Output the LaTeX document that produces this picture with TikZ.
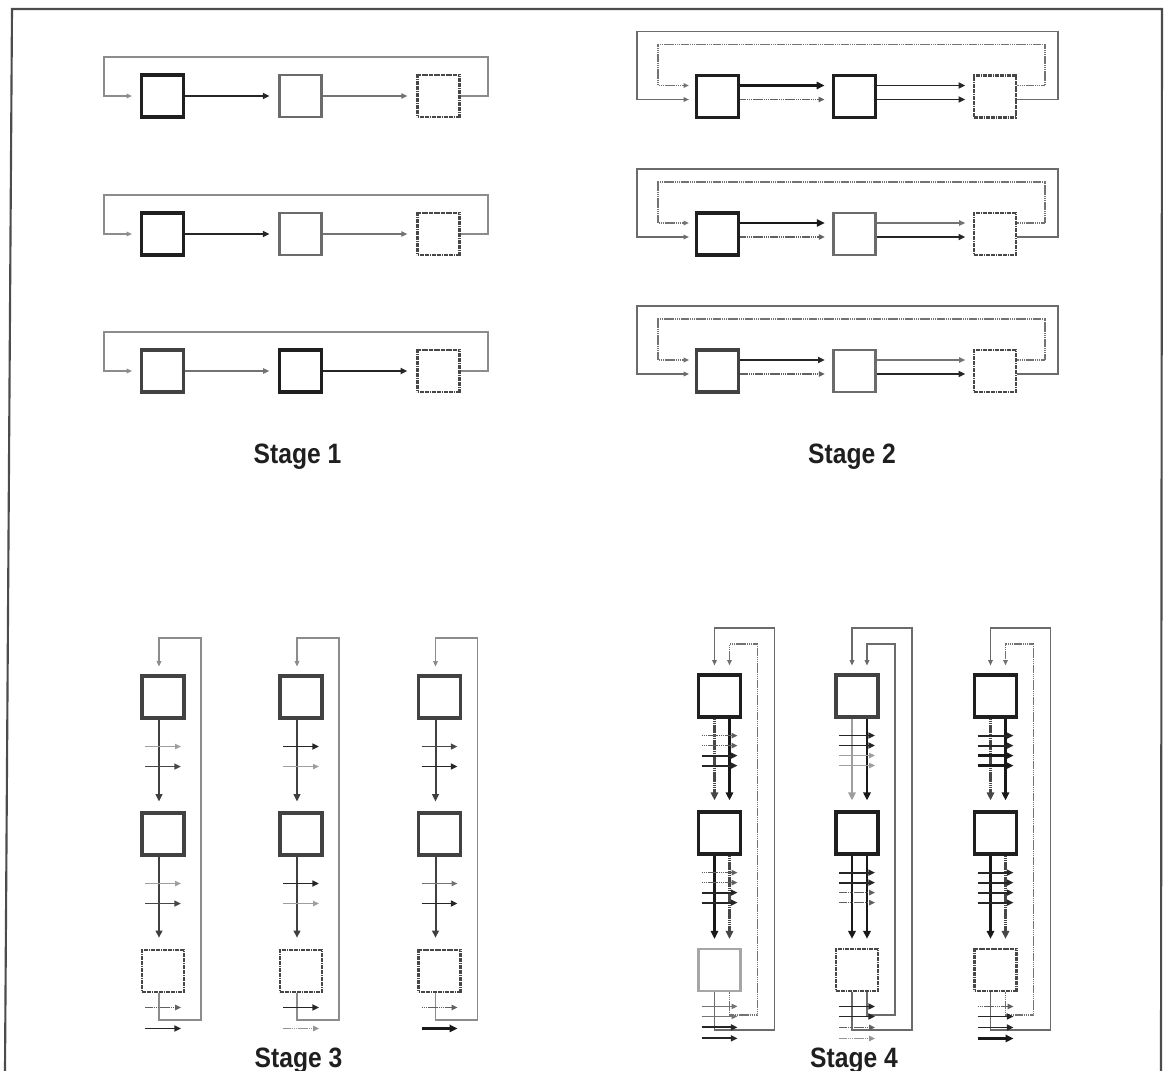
\documentclass[tikz,border=0pt]{standalone}
\usepackage{fontspec}
\newfontfamily\labfont{Liberation Sans}[FakeStretch=0.88]
\usetikzlibrary{arrows.meta,calc}
\newcommand\crossarr[3]{\draw[#1] ($(#2)+(-18,#3)$) -- ++(36,0);}
\tikzset{
  bx/.style={minimum size=31.5pt, inner sep=0pt, fill=white},
  bK/.style={bx, draw=black!88, line width=2.4pt},
  bD/.style={bx, draw=black!74, line width=2.3pt},
  bG/.style={bx, draw=black!58, line width=2.1pt},
  bL/.style={bx, draw=black!35, line width=2.1pt},
  bS/.style={bx, draw=black!72, line width=2.2pt, dash pattern=on 1.4pt off 0.4pt},
  aKK/.style={-{Triangle[length=6pt,width=5.5pt]}, draw=black!90, line width=2pt},
  aK/.style={-{Triangle[length=5pt,width=4.5pt]}, draw=black!85, line width=1.4pt},
  aD/.style={-{Triangle[length=5pt,width=4.4pt]}, draw=black!72, line width=1.2pt},
  aG/.style={-{Triangle[length=4.5pt,width=4pt]}, draw=black!55, line width=0.9pt},
  aL/.style={-{Triangle[length=4.5pt,width=4pt]}, draw=black!38, line width=1.1pt},
  aS/.style={-{Triangle[length=4.5pt,width=4pt]}, draw=black!62, line width=1.2pt, dash pattern=on 1.2pt off 0.4pt},
  aSL/.style={-{Triangle[length=4.5pt,width=4pt]}, draw=black!42, line width=1.1pt, dash pattern=on 1.2pt off 0.4pt},
  aSK/.style={-{Triangle[length=6pt,width=5.5pt]}, draw=black!72, line width=1.8pt, dash pattern=on 1.2pt off 0.4pt},
  aLK/.style={-{Triangle[length=6pt,width=5.5pt]}, draw=black!38, line width=1.8pt},
  aM/.style={-{Triangle[length=5.5pt,width=5pt]}, draw=black!75, line width=1.5pt},
  lpG/.style={-{Triangle[length=4pt,width=3.5pt]}, draw=black!58, line width=0.9pt},
  lpL/.style={-{Triangle[length=4pt,width=3.5pt]}, draw=black!45, line width=0.9pt},
  lpS/.style={-{Triangle[length=4pt,width=3.5pt]}, draw=black!55, line width=1pt, dash pattern=on 1.2pt off 0.4pt},
  lab/.style={font=\labfont\bfseries\fontsize{21}{24}\selectfont, text=black!88, inner sep=0pt, anchor=base},
}
\begin{document}
\begin{tikzpicture}[x=0.75pt,y=-0.75pt]
\useasboundingbox (0,0) rectangle (1165,1071);
\draw[black!70, line width=1.6pt] (5,1071) -- (12,9) -- (1162,9) -- (1161,1071);

% ---------------- Stage 1 ----------------
\foreach \r/\y/\bA/\bB/\bC/\aA/\aB in {a/96/bK/bG/bS/aK/aG, b/234/bK/bG/bS/aK/aG, c/371/bD/bK/bS/aG/aK}{
  \node[\bA] (s1\r1) at (162.5,\y) {};
  \node[\bB] (s1\r2) at (300.5,\y) {};
  \node[\bC] (s1\r3) at (438.5,\y) {};
  \draw[\aA, shorten >=6.5pt] (s1\r1.east) -- (s1\r2.west);
  \draw[\aB, shorten >=6.5pt] (s1\r2.east) -- (s1\r3.west);
  \draw[lpL, shorten >=6pt] (s1\r3.east) -| (488,\y-39) -| (104,\y) -- (s1\r1.west);
}
\node[lab] (l1) at (297.5,463) {Stage 1};

% ---------------- Stage 2 ----------------
\foreach \r/\y/\bA/\bB/\bC/\aU/\aW/\cU/\cW in {a/96.5/bK/bK/bS/aKK/aS/aK/aK, b/234/bK/bG/bS/aKK/aS/aG/aK, c/371/bD/bG/bS/aK/aS/aG/aK}{
  \node[\bA] (s2\r1) at (717.5,\y) {};
  \node[\bB] (s2\r2) at (854.5,\y) {};
  \node[\bC] (s2\r3) at (995,\y) {};
  \draw[\aU, shorten >=5.5pt] ($(s2\r1.east)+(0,-11)$) -- ($(s2\r2.west)+(0,-11)$);
  \draw[\aW, shorten >=5.5pt] ($(s2\r1.east)+(0,3)$) -- ($(s2\r2.west)+(0,3)$);
  \draw[\cU, shorten >=5.5pt] ($(s2\r2.east)+(0,-11)$) -- ($(s2\r3.west)+(0,-11)$);
  \draw[\cW, shorten >=5.5pt] ($(s2\r2.east)+(0,3)$) -- ($(s2\r3.west)+(0,3)$);
  \draw[lpG, shorten >=4.5pt] ($(s2\r3.east)+(0,3)$) -| (1058,\y-65) -| (637,\y+3) -- ($(s2\r1.west)+(0,3)$);
  \draw[lpS, shorten >=4.5pt] ($(s2\r3.east)+(0,-11)$) -| (1045,\y-52) -| (658,\y-11) -- ($(s2\r1.west)+(0,-11)$);
}
\node[lab] (l2) at (852,463) {Stage 2};

% ---------------- Stage 3 ----------------
\foreach \c/\x/\bC/\pa/\pb/\pc/\pd/\pe/\pf in {a/163/bS/aL/aD/aL/aD/aS/aK, b/301/bS/aK/aL/aK/aL/aK/aSL, c/439.5/bS/aD/aK/aG/aK/aS/aKK}{
  \node[bD] (s3\c1) at (\x,697) {};
  \node[bD] (s3\c2) at (\x,834) {};
  \node[\bC] (s3\c3) at (\x,971) {};
  \draw[aM, shorten >=7.5pt] ($(s3\c1.south)+(-4,0)$) -- ($(s3\c2.north)+(-4,0)$);
  \draw[aM, shorten >=8pt] ($(s3\c2.south)+(-4,0)$) -- ($(s3\c3.north)+(-4,0)$);
  \crossarr{\pa}{s3\c1.south}{27}
  \crossarr{\pb}{s3\c1.south}{47}
  \crossarr{\pc}{s3\c2.south}{27}
  \crossarr{\pd}{s3\c2.south}{47}
  \draw[lpL, shorten >=6pt] ($(s3\c3.south)+(-4,0)$) |- (\x+38,1020) |- (\x-4,638) -- ($(s3\c1.north)+(-4,0)$);
  \crossarr{\pe}{s3\c3.south}{14}
  \crossarr{\pf}{s3\c3.south}{35}
}
\node[lab] (l3) at (298.5,1067) {Stage 3};

% ---------------- Stage 4 ----------------
% column a
\node[bK] (s4a1) at (719.5,696) {};
\node[bK] (s4a2) at (719.5,833) {};
\node[bL] (s4a3) at (719.5,970) {};
% column b
\node[bD] (s4b1) at (857,696) {};
\node[bK] (s4b2) at (857,833) {};
\node[bS] (s4b3) at (857,970) {};
% column c
\node[bK] (s4c1) at (995.5,696) {};
\node[bK] (s4c2) at (995.5,833) {};
\node[bS] (s4c3) at (995.5,970) {};

\foreach \c/\x/\iL in {a/719.5/lpS, b/857/lpG, c/995.5/lpS}{
  \draw[lpG, shorten >=6pt] ($(s4\c3.south)+(-5,0)$) |- (\x+55,1030) |- (\x-5,628) -- ($(s4\c1.north)+(-5,0)$);
  \draw[\iL, shorten >=6pt] ($(s4\c3.south)+(10,0)$) |- (\x+38,1015) |- (\x+10,644) -- ($(s4\c1.north)+(10,0)$);
}

% main arrows
\foreach \c/\la/\ra/\lb/\rb in {a/aSK/aKK/aKK/aSK, b/aLK/aKK/aKK/aKK, c/aSK/aKK/aKK/aSK}{
  \draw[\la, shorten >=7.5pt] ($(s4\c1.south)+(-5,0)$) -- ($(s4\c2.north)+(-5,0)$);
  \draw[\ra, shorten >=7.5pt] ($(s4\c1.south)+(10,0)$) -- ($(s4\c2.north)+(10,0)$);
  \draw[\lb, shorten >=6.5pt] ($(s4\c2.south)+(-5,0)$) -- ($(s4\c3.north)+(-5,0)$);
  \draw[\rb, shorten >=6.5pt] ($(s4\c2.south)+(10,0)$) -- ($(s4\c3.north)+(10,0)$);
}

% crossing arrows
\foreach \c/\pa/\pb/\pc/\pd/\qa/\qb/\qc/\qd/\ra/\rb/\rc/\rd in {
  a/aS/aS/aK/aK/aS/aS/aK/aK/aG/aG/aK/aK,
  b/aK/aK/aL/aL/aK/aK/aS/aS/aK/aK/aS/aSL,
  c/aK/aK/aKK/aKK/aK/aK/aK/aK/aS/aK/aK/aKK}{
  \crossarr{\pa}{s4\c1.south}{17}
  \crossarr{\pb}{s4\c1.south}{27}
  \crossarr{\pc}{s4\c1.south}{37}
  \crossarr{\pd}{s4\c1.south}{47}
  \crossarr{\qa}{s4\c2.south}{17}
  \crossarr{\qb}{s4\c2.south}{27}
  \crossarr{\qc}{s4\c2.south}{37}
  \crossarr{\qd}{s4\c2.south}{47}
  \crossarr{\ra}{s4\c3.south}{14}
  \crossarr{\rb}{s4\c3.south}{24}
  \crossarr{\rc}{s4\c3.south}{35}
  \crossarr{\rd}{s4\c3.south}{46}
}
\node[lab] (l4) at (854,1067) {Stage 4};
\end{tikzpicture}
\end{document}
